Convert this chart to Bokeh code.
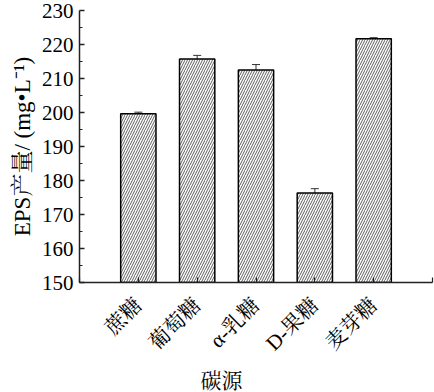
from bokeh.plotting import figure
from bokeh.models import ColumnDataSource, FixedTicker, Whisker, TeeHead, Title
from bokeh.embed import file_html
from bokeh.resources import INLINE
import math

categories = ["蔗糖", "葡萄糖", "α-乳糖", "D-果糖", "麦芽糖"]
values = [199.6, 215.7, 212.5, 176.3, 221.7]
errors = [0.5, 1.1, 1.6, 1.3, 0.3]
y_ticks = [150, 160, 170, 180, 190, 200, 210, 220, 230]

xs = list(range(1, len(categories) + 1))
src = ColumnDataSource(dict(
    x=xs, top=values,
    upper=[v + e for v, e in zip(values, errors)],
))

SERIF = "'Liberation Serif', 'Noto Serif CJK SC', 'Noto Sans CJK SC'"

p = figure(width=434, height=392, output_backend="svg", toolbar_location=None,
           x_range=(0, 6), y_range=(150, 230),
           min_border_left=79, min_border_right=2, min_border_top=10, min_border_bottom=0)
p.outline_line_color = None
p.grid.visible = False
p.background_fill_color = "white"

p.vbar(x="x", top="top", bottom=150, width=0.6, source=src,
       fill_color="white", line_color="black", line_width=1.5,
       hatch_pattern="/", hatch_color="#333333", hatch_scale=5, hatch_weight=0.8)

w = Whisker(base="x", lower="top", upper="upper", source=src, dimension="height",
            line_color="#333333", line_width=1,
            upper_head=TeeHead(size=8, line_color="#333333", line_width=1),
            lower_head=None)
p.add_layout(w)

# y axis
ya = p.yaxis[0]
ya.ticker = FixedTicker(ticks=y_ticks, minor_ticks=[v + 5 for v in y_ticks[:-1]])
ya.major_tick_in = 5
ya.major_tick_out = 0
ya.minor_tick_in = 3
ya.minor_tick_out = 0
ya.axis_line_width = 1.5
ya.axis_line_color = "#222222"
ya.major_tick_line_color = "#222222"
ya.minor_tick_line_color = "#222222"
ya.major_tick_line_width = 1.5
ya.minor_tick_line_width = 1.2
ya.major_label_text_font = SERIF
ya.major_label_text_font_size = "21px"
ya.major_label_text_color = "black"
ya.major_label_standoff = 6
ya.axis_label = "EPS产量/ (mg•L⁻¹)"
ya.axis_label_text_font = SERIF
ya.axis_label_text_font_style = "normal"
ya.axis_label_text_font_size = "23px"
ya.axis_label_text_color = "black"
ya.axis_label_standoff = 4

# x axis
xa = p.xaxis[0]
xa.ticker = FixedTicker(ticks=[0, 1, 2, 3, 4, 5, 6], minor_ticks=[])
xa.major_label_overrides = {0: "", 6: ""}
xa.major_label_overrides.update({i + 1: c for i, c in enumerate(categories)})
xa.major_tick_in = 5
xa.major_tick_out = 0
xa.axis_line_width = 1.5
xa.axis_line_color = "#222222"
xa.major_tick_line_color = "#222222"
xa.major_tick_line_width = 1.2
xa.major_label_orientation = math.pi / 4
xa.major_label_text_font = SERIF
xa.major_label_text_font_size = "21px"
xa.major_label_text_color = "black"
xa.major_label_standoff = 19

xt = Title(text="碳源", align="left", offset=121, text_font=SERIF, standoff=0,
           text_font_size="21px", text_font_style="normal", text_color="black")
p.add_layout(xt, "below")

open("out.html", "w").write(file_html(p, INLINE))
